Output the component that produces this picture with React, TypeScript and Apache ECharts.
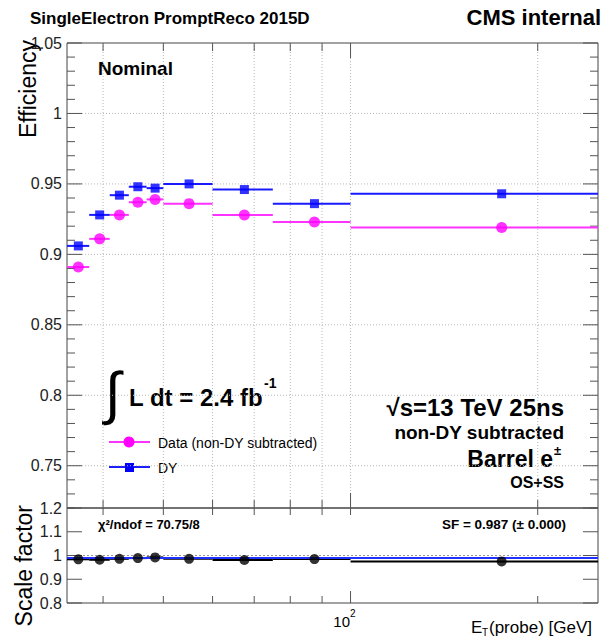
import React, { useEffect, useRef } from "react";
import * as echarts from "echarts";

// ---- data ----
const binLow = [35, 38, 41, 44, 47, 50, 60, 75, 100];
const binHigh = [38, 41, 44, 47, 50, 60, 75, 100, 250];
const binCenter = [36.5, 39.5, 42.5, 45.5, 48.5, 55, 67.5, 87.5, 175];
const dataEff = [0.891, 0.911, 0.928, 0.937, 0.939, 0.936, 0.928, 0.923, 0.919];
const dyEff = [0.906, 0.928, 0.942, 0.948, 0.947, 0.95, 0.946, 0.936, 0.943];
const scaleFactor = [0.984, 0.982, 0.986, 0.989, 0.992, 0.986, 0.981, 0.985, 0.975];
const sfFit = 0.987;
const xGridValues = [40, 50, 60, 70, 80, 90, 100, 200];
const effMajorTicks = [0.75, 0.8, 0.85, 0.9, 0.95, 1, 1.05];
const sfMajorTicks = [0.8, 0.9, 1, 1.1, 1.2];

const X_MIN = 35;
const X_MAX = 250;
const EFF_MIN = 0.72;
const EFF_MAX = 1.05;
const SF_MIN = 0.8;
const SF_MAX = 1.2;

const FONT = "'Liberation Sans', Arial, Helvetica, sans-serif";
const TICK = "#555";
const GRIDC = "#b8b8b8";

const ln = (x1: number, y1: number, x2: number, y2: number, stroke = TICK, lineWidth = 1, lineDash?: number[]) => ({
  type: "line",
  silent: true,
  shape: { x1, y1, x2, y2 },
  style: { stroke, lineWidth, lineDash },
});

const isMultiple = (v: number, step: number) => Math.abs(v / step - Math.round(v / step)) < 1e-6;
const fmt = (v: number) => String(parseFloat(v.toFixed(2)));

export default function App() {
  const ref = useRef<HTMLDivElement>(null);
  useEffect(() => {
    if (!ref.current) return;
    const chart = echarts.init(ref.current, undefined, { renderer: "svg" });

    const topDeco = (params: any, api: any) => {
      const ch: any[] = [];
      const [xl, yb] = api.coord([X_MIN, EFF_MIN]);
      const [xr, yt] = api.coord([X_MAX, EFF_MAX]);
      xGridValues.forEach((v) => {
        const [x] = api.coord([v, EFF_MIN]);
        ch.push(ln(x, yt, x, yb, GRIDC, 1, [1, 2]));
      });
      effMajorTicks.forEach((v) => {
        if (v < EFF_MAX - 1e-9) {
          const [, y] = api.coord([X_MIN, v]);
          ch.push(ln(xl, y, xr, y, GRIDC, 1, [1, 2]));
        }
      });
      for (let i = 72; i <= 105; i++) {
        const [, y] = api.coord([X_MIN, i / 100]);
        const len = i % 5 === 0 ? 15 : 8;
        ch.push(ln(xl, y, xl + len, y));
        ch.push(ln(xr, y, xr - len, y));
      }
      xGridValues.forEach((v) => {
        const [x] = api.coord([v, EFF_MIN]);
        const len = v === 100 ? 15 : 8;
        ch.push(ln(x, yt, x, yt + len));
        ch.push(ln(x, yb, x, yb - len));
      });
      return { type: "group", children: ch };
    };

    const botDeco = (params: any, api: any) => {
      const ch: any[] = [];
      const [xl, yb] = api.coord([X_MIN, SF_MIN]);
      const [xr, yt] = api.coord([X_MAX, SF_MAX]);
      const [, y1] = api.coord([X_MIN, 1]);
      ch.push(ln(xl, y1, xr, y1, "#999", 1, [2, 2]));
      sfMajorTicks.forEach((v) => {
        const [, y] = api.coord([X_MIN, v]);
        ch.push(ln(xl, y, xl + 15, y));
        ch.push(ln(xr, y, xr - 15, y));
      });
      xGridValues.forEach((v) => {
        const [x] = api.coord([v, SF_MIN]);
        const len = v === 100 ? 12 : 7;
        ch.push(ln(x, yt, x, yt + 7));
        ch.push(ln(x, yb, x, yb - len));
      });
      return { type: "group", children: ch };
    };

    const errBar = (color: string) => (params: any, api: any) => {
      const p1 = api.coord([api.value(0), api.value(2)]);
      const p2 = api.coord([api.value(1), api.value(2)]);
      return ln(p1[0], p1[1], p2[0], p2[1], color, 2);
    };

    const barData = (vals: number[]) => vals.map((v, i) => [binLow[i], binHigh[i], v]);
    const ptData = (vals: number[]) => vals.map((v, i) => [binCenter[i], v]);

    const yLabel = {
      fontSize: 16,
      color: "#222",
      fontFamily: FONT,
      margin: 5,
    };

    const text = (x: number, y: number, t: string, size: number, opts: any = {}) => ({
      type: "text",
      x,
      y,
      silent: true,
      style: {
        text: t,
        fontSize: size,
        fontFamily: FONT,
        fontWeight: opts.bold ? "bold" : "normal",
        fill: opts.fill || "#000",
        align: opts.align || "left",
        verticalAlign: opts.va || "middle",
      },
      rotation: opts.rotation || 0,
    });

    chart.setOption({
      animation: false,
      backgroundColor: "#fff",
      grid: [
        { left: 67, right: 15, top: 43, height: 465, show: true, borderColor: "#444", borderWidth: 1, backgroundColor: "transparent" },
        { left: 67, right: 15, top: 508, height: 95, show: true, borderColor: "#444", borderWidth: 1, backgroundColor: "transparent" },
      ],
      xAxis: [
        { type: "log", logBase: 10, min: X_MIN, max: X_MAX, gridIndex: 0, axisLabel: { show: false }, axisTick: { show: false }, splitLine: { show: false }, axisLine: { show: false } },
        { type: "log", logBase: 10, min: X_MIN, max: X_MAX, gridIndex: 1, axisLabel: { show: false }, axisTick: { show: false }, splitLine: { show: false }, axisLine: { show: false } },
      ],
      yAxis: [
        {
          type: "value",
          gridIndex: 0,
          min: EFF_MIN,
          max: EFF_MAX,
          interval: 0.01,
          axisLine: { show: false },
          axisTick: { show: false },
          splitLine: { show: false },
          axisLabel: { ...yLabel, formatter: (v: number) => (isMultiple(v, 0.05) ? fmt(v) : "") },
        },
        {
          type: "value",
          gridIndex: 1,
          min: SF_MIN,
          max: SF_MAX,
          interval: 0.1,
          axisLine: { show: false },
          axisTick: { show: false },
          splitLine: { show: false },
          axisLabel: { ...yLabel, formatter: (v: number) => fmt(v) },
        },
      ],
      series: [
        { type: "custom", xAxisIndex: 0, yAxisIndex: 0, data: [[100, 0.9]], renderItem: topDeco, z: 1, silent: true },
        { type: "custom", xAxisIndex: 1, yAxisIndex: 1, data: [[100, 1]], renderItem: botDeco, z: 1, silent: true },
        { type: "custom", name: "dataBars", xAxisIndex: 0, yAxisIndex: 0, data: barData(dataEff), encode: { x: [0, 1], y: 2 }, renderItem: errBar("#ff33ff"), z: 3 },
        { type: "custom", name: "dyBars", xAxisIndex: 0, yAxisIndex: 0, data: barData(dyEff), encode: { x: [0, 1], y: 2 }, renderItem: errBar("#1a1aff"), z: 3 },
        { type: "scatter", name: "Data (non-DY subtracted)", xAxisIndex: 0, yAxisIndex: 0, data: ptData(dataEff), symbol: "circle", symbolSize: 11, itemStyle: { color: "#ff00ff" }, z: 4 },
        { type: "scatter", name: "DY", xAxisIndex: 0, yAxisIndex: 0, data: ptData(dyEff), symbol: "rect", symbolSize: 9, itemStyle: { color: "#0000ff" }, z: 4 },
        { type: "custom", name: "sfBars", xAxisIndex: 1, yAxisIndex: 1, data: barData(scaleFactor), encode: { x: [0, 1], y: 2 }, renderItem: errBar("#000"), z: 3 },
        {
          type: "scatter",
          name: "SF",
          xAxisIndex: 1,
          yAxisIndex: 1,
          data: ptData(scaleFactor),
          symbol: "circle",
          symbolSize: 10,
          itemStyle: { color: "#000" },
          z: 5,
          markLine: {
            silent: true,
            symbol: "none",
            label: { show: false },
            lineStyle: { color: "#2030ff", width: 2, type: "solid" },
            data: [{ yAxis: sfFit }],
            z: 4,
          },
        },
      ],
      graphic: [
        text(30, 18, "SingleElectron PromptReco 2015D", 17, { bold: true }),
        text(601, 17, "CMS internal", 22, { bold: true, align: "right" }),
        text(28, 40, "Efficiency", 23, { align: "right", rotation: Math.PI / 2 }),
        text(24, 505, "Scale factor", 23, { align: "right", rotation: Math.PI / 2 }),
        text(98, 68, "Nominal", 19, { bold: true }),
        // integral
        text(105, 392, "∫", 58, { bold: false }),
        text(129, 397, "L dt = 2.4 fb", 24, { bold: true }),
        text(264, 383, "-1", 14, { bold: true }),
        // legend
        ln(109, 442, 150, 442, "#ff33ff", 2),
        { type: "circle", silent: true, shape: { cx: 129, cy: 442, r: 5.5 }, style: { fill: "#ff00ff" } },
        text(158, 443, "Data (non-DY subtracted)", 14),
        ln(109, 467, 150, 467, "#1a1aff", 2),
        { type: "rect", silent: true, shape: { x: 125, y: 463, width: 9, height: 9 }, style: { fill: "#0000ff" } },
        text(158, 468, "DY", 14),
        // right texts
        text(564, 407, "√s=13 TeV 25ns", 24, { bold: true, align: "right" }),
        text(564, 432, "non-DY subtracted", 19, { bold: true, align: "right" }),
        text(553, 459, "Barrel e", 23, { bold: true, align: "right" }),
        text(554, 450, "±", 13, { bold: true }),
        text(564, 482, "OS+SS", 16, { bold: true, align: "right" }),
        // bottom panel texts
        text(98, 524, "χ²/ndof = 70.75/8", 13, { bold: true }),
        text(566, 524, "SF = 0.987 (± 0.000)", 13.5, { bold: true, align: "right" }),
        // x axis labels
        text(350, 621, "10", 15, { align: "right" }),
        text(350, 613, "2", 10),
        text(471, 627, "E", 17),
        text(482, 632, "T", 10),
        text(489, 627, "(probe) [GeV]", 17),
      ],
    });
    return () => chart.dispose();
  }, []);
  return <div ref={ref} style={{ position: "absolute", left: 0, top: 0, width: 613, height: 637, background: "#fff" }} />;
}
